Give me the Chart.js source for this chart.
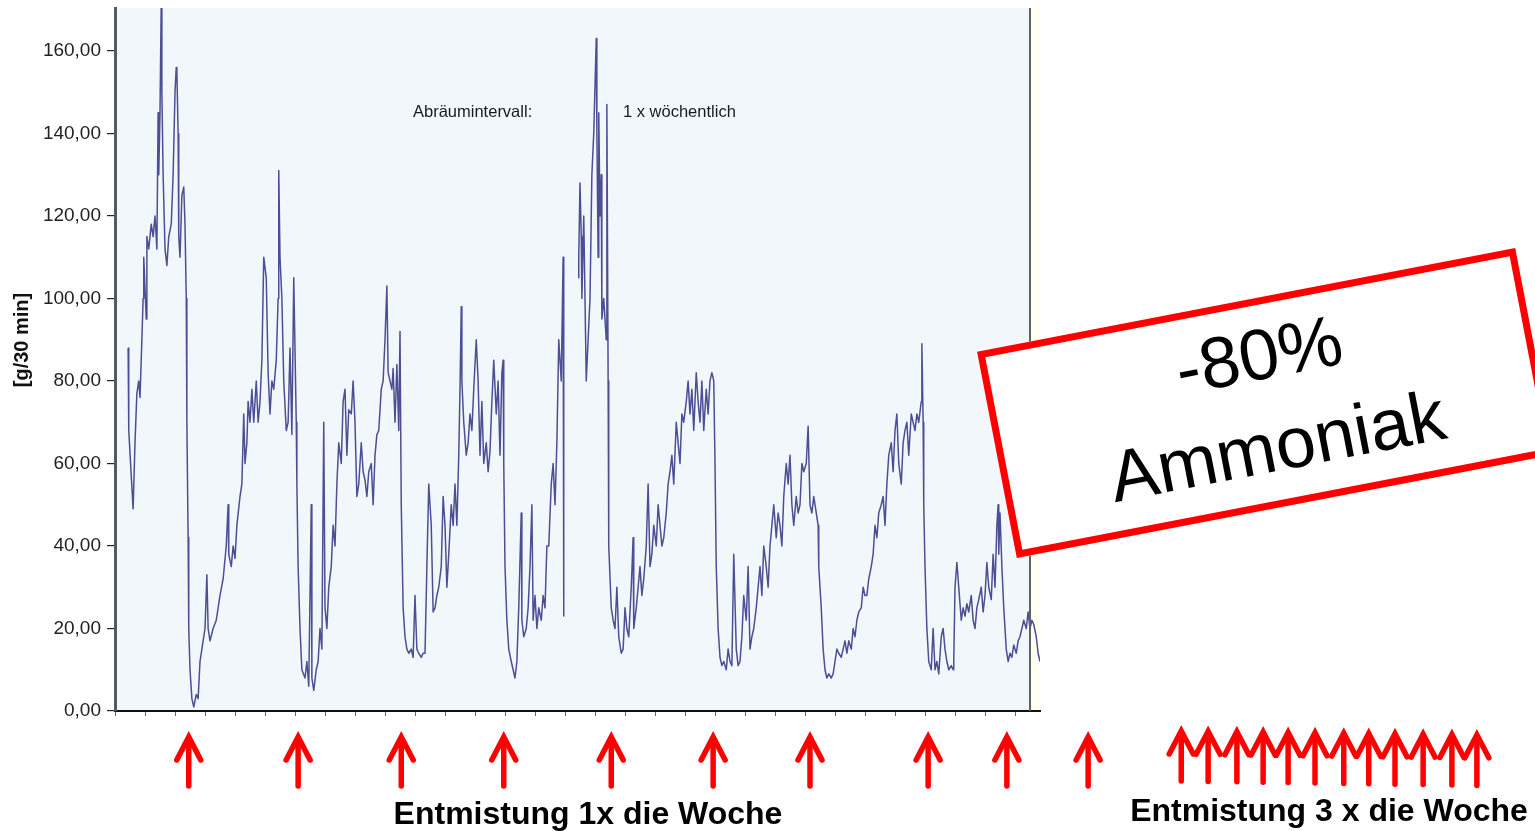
<!DOCTYPE html>
<html lang="de">
<head>
<meta charset="utf-8">
<title>Ammoniak-Emission</title>
<script src="https://cdn.jsdelivr.net/npm/chart.js@4"></script>
<style>
  html, body { margin: 0; padding: 0; background: #ffffff; }
  canvas { display: block; }
</style>
</head>
<body>
<canvas id="c" width="1535" height="831"></canvas>
<script>
// Ammoniak-Emission [g/30 min] over the measurement period, time in hours from start
const hours = [
  21,22,26,29,32,35,38,40,43,45,
  46,50,51,54,58,61,64,67,69,70,
  72,74,75,77,80,83,86,90,93,96,
  98,99,101,102,104,107,110,112,114,115,
  117,118,120,123,126,130,133,136,139,144,
  147,149,152,157,162,165,168,173,178,181,
  182,186,189,192,195,200,203,206,208,211,
  213,216,219,222,226,229,232,235,238,242,
  245,248,251,254,258,261,262,264,267,270,
  274,277,280,283,286,290,291,293,296,299,
  304,307,310,314,315,318,322,325,328,331,
  334,336,339,342,346,349,352,355,358,362,
  365,368,371,374,378,381,384,387,390,394,
  397,400,403,406,410,413,416,419,422,426,
  429,432,435,437,440,443,445,448,451,454,
  456,458,461,464,467,470,474,477,480,483,
  486,490,493,496,499,502,506,509,512,515,
  518,522,525,528,531,534,538,541,544,547,
  550,552,554,555,558,562,565,568,571,574,
  578,581,584,587,590,594,597,600,603,606,
  610,613,616,619,621,622,624,627,630,634,
  637,640,643,646,650,651,654,658,661,664,
  667,669,672,675,678,682,685,688,691,694,
  698,701,704,707,710,714,717,718,729,
  741,742,744,746,747,750,754,757,760,763,
  766,770,771,773,774,776,778,779,782,786,
  787,789,790,794,797,800,803,806,810,813,
  816,819,822,826,829,830,834,837,840,843,
  846,850,853,856,859,862,866,869,872,875,
  878,882,885,888,891,894,898,901,904,907,
  910,914,917,920,923,926,930,933,936,939,
  942,946,949,952,955,958,960,962,965,968,
  971,974,978,981,984,987,990,994,997,1000,
  1003,1006,1010,1013,1016,1019,1022,1026,1029,1032,
  1035,1038,1042,1045,1048,1051,1054,1058,1061,1064,
  1067,1070,1074,1077,1080,1083,1086,1090,1093,1096,
  1099,1102,1106,1109,1112,1115,1118,1122,1125,1126,
  1130,1133,1136,1139,1142,1146,1149,1152,1155,1158,
  1162,1165,1168,1171,1174,1178,1181,1184,1187,1190,
  1194,1197,1200,1203,1206,1210,1213,1216,1219,1222,
  1226,1229,1232,1235,1238,1242,1245,1248,1251,1254,
  1258,1261,1264,1267,1270,1274,1277,1280,1283,1286,
  1290,1291,1293,1294,1296,1299,1302,1306,1309,1312,
  1315,1318,1322,1325,1328,1331,1334,1338,1341,1342,
  1344,1347,1350,1354,1357,1360,1363,1366,1370,1373,
  1376,1379,1382,1386,1389,1392,1395,1398,1402,1405,
  1408,1411,1413,1414,1416,1419,1422,1426,1429,1432,
  1435,1438,1442,1445,1448,1451,1454,1458,1461,1464,
  1467,1470,1474,1477,1480
];

const nh3 = [
  88,68,57,49,65,77,80,76,90,100,
  110,95,115,112,118,115,120,112,145,130,
  145,172,150,130,112,108,115,118,130,150,
  156,155,140,115,110,125,127,118,100,70,
  42,20,10,3,1,4,3,12,15,20,
  33,20,17,20,22,25,28,32,40,50,
  38,35,40,37,45,52,55,72,60,65,
  75,70,78,70,80,70,75,85,110,105,
  82,72,80,78,85,100,131,110,100,80,
  68,70,88,67,105,70,55,35,20,10,
  8,12,6,50,8,5,10,12,20,15,
  70,25,20,30,35,45,40,55,65,60,
  75,78,62,73,72,80,70,52,55,65,
  58,56,52,58,60,50,62,67,68,78,
  80,90,103,82,80,78,83,70,84,68,
  92,50,25,18,15,14,15,13,28,15,
  14,13,14,14,35,55,45,24,25,28,
  30,35,52,45,30,38,50,45,55,45,
  62,78,98,80,70,62,65,72,68,78,
  90,80,62,75,60,65,58,63,75,85,
  72,80,62,82,85,60,35,22,15,12,
  10,8,12,25,48,22,18,20,25,35,
  50,22,28,20,25,22,28,25,40,40,
  55,60,50,65,90,80,110,23,null,
  105,110,128,115,100,120,80,90,100,130,
  140,163,140,110,145,120,130,95,100,90,
  147,80,40,25,22,20,30,18,14,15,
  25,20,18,30,42,20,25,30,35,28,
  32,40,55,35,38,45,40,50,45,40,
  42,48,55,58,62,55,70,65,60,72,
  70,75,80,72,78,68,82,75,70,80,
  68,78,72,80,82,80,60,35,20,13,
  11,12,10,15,12,11,38,15,11,12,
  18,28,22,35,15,18,20,25,30,35,
  28,40,35,30,40,45,50,42,48,45,
  40,52,60,55,62,50,45,52,48,50,
  60,58,60,69,50,48,52,48,45,35,
  25,15,10,8,9,8,9,12,15,14,
  13,15,17,14,17,15,20,18,22,24,
  25,30,28,28,32,35,38,45,42,48,
  50,52,45,55,62,65,58,68,72,60,
  55,65,68,70,62,72,70,68,72,70,
  75,89,70,50,35,20,12,10,20,10,
  12,9,18,20,15,12,10,11,10,12,
  30,36,30,22,25,23,26,24,28,22,
  20,25,27,30,24,28,36,30,27,38,
  30,45,50,38,48,35,25,15,12,14,
  13,16,14,17,18,20,22,20,24,20,
  22,21,18,14,12
];

// y-axis tick values and their printed labels
const yTicks = [0, 20, 40, 60, 80, 100, 120, 140, 160];
const yTickLabels = ['0,00', '20,00', '40,00', '60,00', '80,00', '100,00', '120,00', '140,00', '160,00'];

// manure removal events (hours): weekly, then three times a week
const removalWeekly = [118, 293, 458, 622, 794, 957, 1112, 1301, 1427, 1557];
const removalThrice = [1706, 1749, 1795, 1837, 1877, 1920, 1966, 2006, 2048, 2093, 2139, 2179];

// end of the recorded period (hours)
const periodEnd = 1464;

const points = hours.map((h, i) => ({ x: h, y: nh3[i] }));

const decorations = {
  id: 'decorations',
  beforeDraw(chart) {
    const { ctx, chartArea: a, scales: { x } } = chart;
    const xd = x.getPixelForValue(periodEnd);
    ctx.save();
    ctx.fillStyle = '#f2f7fb';
    ctx.fillRect(a.left, a.top, xd - a.left, a.bottom - a.top);
    ctx.fillStyle = '#fffff2';
    ctx.fillRect(xd, a.top, a.right - xd, a.bottom - a.top);
    ctx.restore();
  },
  afterDatasetsDraw(chart) {
    const { ctx, chartArea: a, scales: { x } } = chart;
    const xd = Math.round(x.getPixelForValue(periodEnd));
    ctx.save();
    ctx.strokeStyle = '#5f6266';
    ctx.lineWidth = 2;
    ctx.beginPath();
    ctx.moveTo(xd, a.top);
    ctx.lineTo(xd, a.bottom);
    ctx.stroke();
    ctx.restore();
  },
  afterDraw(chart) {
    const { ctx, scales: { x } } = chart;
    ctx.save();

    // axis title
    ctx.save();
    ctx.translate(22, 340);
    ctx.rotate(-Math.PI / 2);
    ctx.fillStyle = '#111';
    ctx.font = 'bold 20px "Liberation Sans", Arial, sans-serif';
    ctx.textAlign = 'center';
    ctx.textBaseline = 'middle';
    ctx.fillText('[g/30 min]', 0, 0);
    ctx.restore();

    // annotation inside the plot
    ctx.fillStyle = '#1a1a1a';
    ctx.font = '16.5px "Liberation Sans", Arial, sans-serif';
    ctx.textAlign = 'left';
    ctx.textBaseline = 'alphabetic';
    ctx.fillText('Abräumintervall:', 413, 117);
    ctx.fillText('1 x wöchentlich', 623, 117);

    // removal arrows
    ctx.strokeStyle = '#ff0000';
    ctx.lineWidth = 5.5;
    ctx.lineCap = 'round';
    ctx.lineJoin = 'miter';
    const arrow = (px, tip, base) => {
      ctx.beginPath();
      ctx.moveTo(px, base);
      ctx.lineTo(px, tip + 3);
      ctx.stroke();
      ctx.beginPath();
      ctx.moveTo(px - 12, tip + 24);
      ctx.lineTo(px, tip + 1);
      ctx.lineTo(px + 12, tip + 24);
      ctx.stroke();
    };
    removalWeekly.forEach(h => arrow(x.getPixelForValue(h), 736, 786));
    removalThrice.forEach((h, i) => arrow(x.getPixelForValue(h), 730 + i * 0.35, 781 + i * 0.4));

    // captions
    ctx.fillStyle = '#000';
    ctx.font = 'bold 32px "Liberation Sans", Arial, sans-serif';
    ctx.textAlign = 'center';
    ctx.fillText('Entmistung 1x die Woche', 588, 824);
    ctx.fillText('Entmistung 3 x die Woche', 1329, 821);

    // result box
    ctx.save();
    ctx.translate(1266, 403);
    ctx.rotate(-10.9 * Math.PI / 180);
    ctx.fillStyle = '#ffffff';
    ctx.fillRect(-274, -105, 548, 210);
    ctx.strokeStyle = '#ff0000';
    ctx.lineWidth = 7;
    ctx.lineJoin = 'miter';
    ctx.strokeRect(-270.5, -101.5, 541, 203);
    ctx.fillStyle = '#000';
    ctx.font = '72px "Liberation Sans", Arial, sans-serif';
    ctx.textAlign = 'center';
    ctx.textBaseline = 'middle';
    ctx.fillText('-80%', 2, -44);
    ctx.fillText('Ammoniak', 3, 49);
    ctx.restore();

    ctx.restore();
  }
};

new Chart(document.getElementById('c'), {
  type: 'line',
  data: {
    datasets: [{
      data: points,
      borderColor: 'rgba(62, 64, 138, 0.92)',
      borderWidth: 1.5,
      borderJoinStyle: 'round',
      pointRadius: 0,
      tension: 0,
      spanGaps: false,
      fill: false
    }]
  },
  options: {
    responsive: false,
    devicePixelRatio: 1,
    animation: false,
    events: [],
    layout: { padding: { top: 8, right: 495, bottom: 0, left: 0 } },
    plugins: { legend: { display: false }, tooltip: { enabled: false } },
    scales: {
      x: {
        type: 'linear',
        min: 0,
        max: 1480,
        ticks: { display: false, stepSize: 48, includeBounds: false },
        grid: { drawOnChartArea: false, drawTicks: true, tickLength: 5, color: '#666', lineWidth: 1 },
        border: { display: true, color: '#111', width: 2 },
        afterFit(scale) {
          scale.height = 120;
          scale.paddingLeft = 0; scale.paddingRight = 0;
        }
      },
      y: {
        min: 0,
        max: 170.4,
        afterBuildTicks(scale) {
          scale.ticks = yTicks.map(v => ({ value: v }));
        },
        ticks: {
          callback: (v) => yTickLabels[yTicks.indexOf(v)] ?? '',
          color: '#222',
          padding: 6,
          font: { family: '"Liberation Sans", Arial, sans-serif', size: 19 }
        },
        grid: { drawOnChartArea: false, drawTicks: true, tickLength: 8, color: '#222', lineWidth: 1.2 },
        border: { display: true, color: '#555a5e', width: 3 },
        afterFit(scale) {
          scale.width = 115;
          scale.paddingTop = 0; scale.paddingBottom = 0;
        }
      }
    }
  },
  plugins: [decorations]
});
</script>
</body>
</html>
